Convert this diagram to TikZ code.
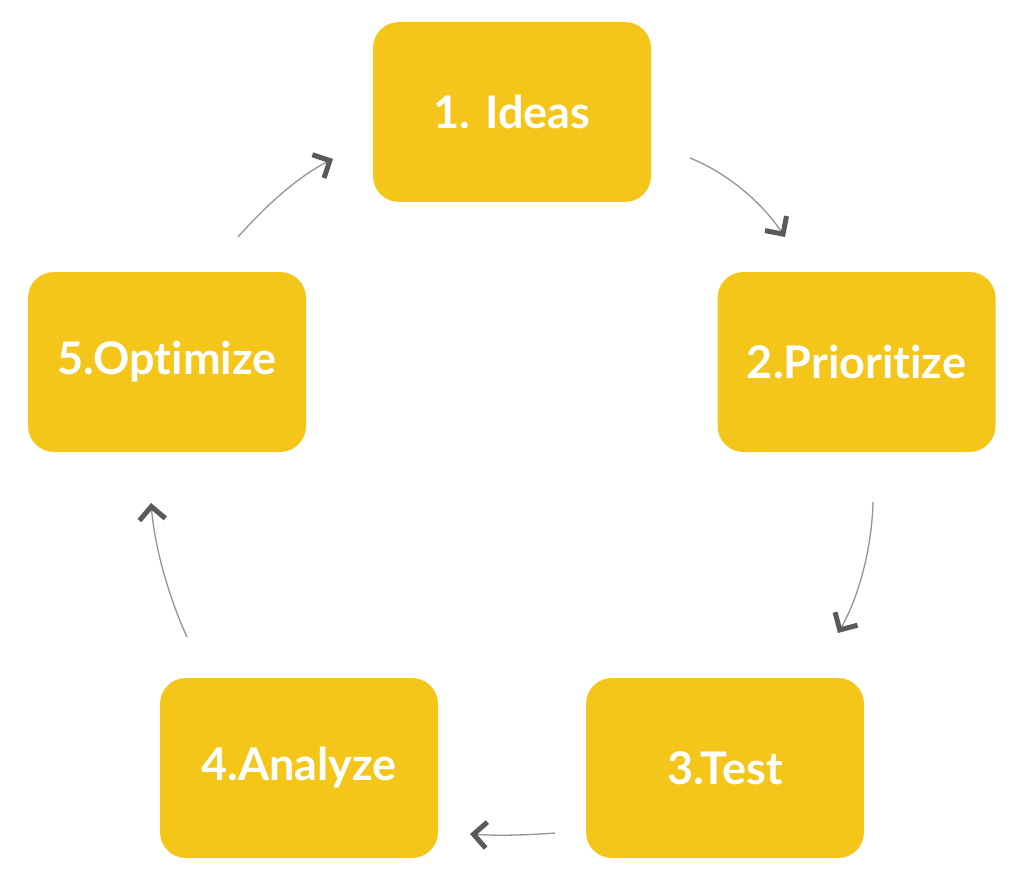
\documentclass[tikz,border=0pt]{standalone}
\usepackage{fontspec}
\setmainfont{Lato}[Ligatures={NoCommon,NoRequired}]
\usetikzlibrary{arrows.meta}
\definecolor{boxyellow}{HTML}{F4C619}
\definecolor{arrowgray}{HTML}{949494}
\definecolor{tipgray}{HTML}{5A5A5A}
\begin{document}
\begin{tikzpicture}[x=1pt,y=-1pt,
  stepbox/.style={fill=boxyellow,rounded corners=26pt,minimum width=278pt,minimum height=180pt,
    inner sep=0pt,text=white,font=\fontsize{45}{50}\selectfont\bfseries},
  cyc/.style={draw=arrowgray,line width=1.3pt,
    -{Straight Barb[length=13pt,width=26pt,line width=5pt,color=tipgray]}}]
\useasboundingbox (0,0) rectangle (1024,893);
\node[stepbox] (ideas) at (512,112) {1. Ideas};
\node[stepbox] (prio) at (856.5,362) {2.Prioritize};
\node[stepbox] (test) at (725,768) {3.Test};
\node[stepbox] (analyze) at (299,768) {4.Analyze};
\node[stepbox] (optim) at (167,362) {5.Optimize};
\coordinate (a1s) at (690,158); \coordinate (a1e) at (785,237);
\coordinate (a2s) at (873,502); \coordinate (a2e) at (838,633);
\coordinate (a3s) at (555,833); \coordinate (a3e) at (470,834);
\coordinate (a4s) at (187,637); \coordinate (a4e) at (151,503);
\coordinate (a5s) at (238,237); \coordinate (a5e) at (333,159);
\draw[cyc] (a1s) .. controls (725,172) and (760,200) .. (a1e);
\draw[cyc] (a2s) .. controls (872,545) and (860,595) .. (a2e);
\draw[cyc] (a3s) .. controls (528,835) and (500,836) .. (a3e);
\draw[cyc] (a4s) .. controls (170,600) and (155,550) .. (a4e);
\draw[cyc] (a5s) .. controls (262,210) and (295,178) .. (a5e);
\end{tikzpicture}
\end{document}
